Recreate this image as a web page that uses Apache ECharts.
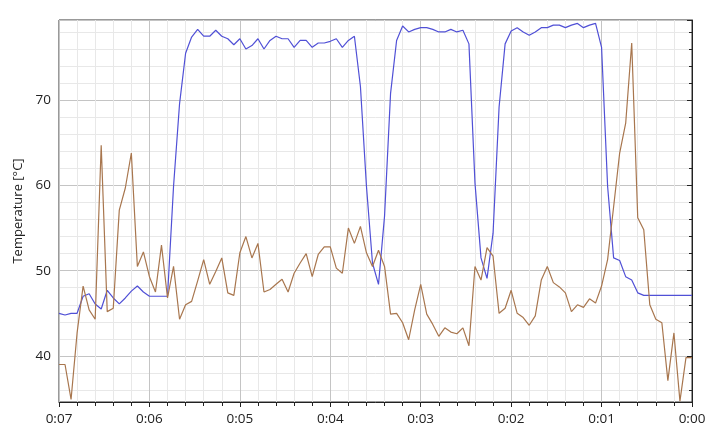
<!DOCTYPE html>
<html lang="en">
<head>
<meta charset="UTF-8" />
<title>Temperature</title>
<script src="https://cdn.jsdelivr.net/npm/echarts@6/dist/echarts.min.js"></script>
<style>
  html, body { margin: 0; padding: 0; background: #fff; }
  #chart { width: 715px; height: 440px; }
</style>
</head>
<body>
<div id="chart"></div>
<script>
// seconds before end, sampled every 4 s (420 -> 0)
var times = [];
for (var t = 420; t >= 0; t -= 4) times.push(t);

var blueTemps = [
  45.0, 44.8, 45.0, 45.0, 47.0, 47.3, 46.1, 45.5, 47.7, 46.8,
  46.1, 46.8, 47.6, 48.2, 47.5, 47.0, 47.0, 47.0, 47.0, 59.9,
  69.6, 75.5, 77.4, 78.3, 77.5, 77.5, 78.2, 77.5, 77.2, 76.5,
  77.2, 76.0, 76.4, 77.2, 76.0, 77.0, 77.5, 77.2, 77.2, 76.2,
  77.0, 77.0, 76.2, 76.7, 76.7, 76.9, 77.2, 76.2, 77.0, 77.5,
  71.6, 59.9, 50.9, 48.4, 56.4, 70.8, 77.0, 78.7, 78.0, 78.3,
  78.5, 78.5, 78.3, 78.0, 78.0, 78.3, 78.0, 78.2, 76.6, 60.3,
  51.5, 49.1, 54.4, 69.2, 76.6, 78.1, 78.5, 78.0, 77.6, 78.0,
  78.5, 78.5, 78.8, 78.8, 78.5, 78.8, 79.0, 78.5, 78.8, 79.0,
  76.2, 59.9, 51.5, 51.2, 49.3, 48.9, 47.4, 47.1, 47.1, 47.1,
  47.1, 47.1, 47.1, 47.1, 47.1, 47.1
];

var brownTemps = [
  39.0, 39.0, 34.9, 42.7, 48.2, 45.4, 44.3, 64.7, 45.2, 45.6,
  57.1, 59.7, 63.8, 50.5, 52.2, 49.3, 47.5, 53.0, 46.8, 50.5,
  44.3, 46.0, 46.4, 48.8, 51.3, 48.4, 49.9, 51.5, 47.4, 47.1,
  52.1, 54.0, 51.5, 53.2, 47.5, 47.8, 48.4, 49.0, 47.5, 49.7,
  50.9, 52.0, 49.3, 51.9, 52.8, 52.8, 50.3, 49.7, 55.0, 53.2,
  55.2, 52.1, 50.5, 52.4, 50.5, 44.9, 45.0, 43.9, 41.9, 45.4,
  48.4, 44.9, 43.7, 42.3, 43.3, 42.8, 42.6, 43.3, 41.2, 50.5,
  48.9, 52.7, 51.7, 45.0, 45.6, 47.7, 45.0, 44.5, 43.6, 44.7,
  48.9, 50.5, 48.6, 48.1, 47.4, 45.2, 46.0, 45.7, 46.7, 46.2,
  48.2, 51.3, 57.5, 63.8, 67.3, 76.7, 56.2, 54.8, 46.0, 44.3,
  43.9, 37.1, 42.7, 34.7, 39.8, 39.8
];

function pairs(vals) {
  return times.map(function (t, i) { return [t, vals[i]]; });
}

var chart = echarts.init(document.getElementById('chart'));
var font = '"Open Sans", "Noto Sans", sans-serif';
var option = {
  backgroundColor: '#fff',
  animation: false,
  grid: { left: 59, right: 23, top: 20, bottom: 38, show: true, borderColor: '#333', borderWidth: 1 },
  xAxis: {
    type: 'value', inverse: true, min: 0, max: 420, interval: 60,
    axisLine: { lineStyle: { color: '#222' } },
    axisTick: { inside: false, length: 5, lineStyle: { color: '#222' } },
    minorTick: { show: true, splitNumber: 5, length: 4, lineStyle: { color: '#222' } },
    splitLine: { lineStyle: { color: '#c4c4c4' } },
    minorSplitLine: { show: true, lineStyle: { color: '#e8e8e8' } },
    axisLabel: {
      color: '#222', fontFamily: font, fontSize: 13.5, margin: 10,
      formatter: function (v) { return '0:0' + Math.round(v / 60); }
    }
  },
  yAxis: {
    type: 'value', min: 34.6, max: 79.4, splitNumber: 5,
    name: 'Temperature [°C]', nameLocation: 'middle', nameGap: 26,
    nameTextStyle: { color: '#222', fontFamily: font, fontSize: 13 },
    axisLine: { show: true, lineStyle: { color: '#222' } },
    axisTick: { show: true, length: 5, lineStyle: { color: '#222' } },
    minorTick: { show: true, splitNumber: 5, length: 3, lineStyle: { color: '#222' } },
    splitLine: { lineStyle: { color: '#c4c4c4' } },
    minorSplitLine: { show: true, lineStyle: { color: '#e8e8e8' } },
    axisLabel: { color: '#222', fontFamily: font, fontSize: 13.5, showMinLabel: false, showMaxLabel: false }
  },
  series: [
    {
      name: 'Blue', type: 'line', data: pairs(blueTemps), showSymbol: false,
      lineStyle: { color: '#5050d6', width: 1.2 }
    },
    {
      name: 'Brown', type: 'line', data: pairs(brownTemps), showSymbol: false,
      lineStyle: { color: '#a8764e', width: 1.2 }
    }
  ]
};
chart.setOption(option);
</script>
</body>
</html>
